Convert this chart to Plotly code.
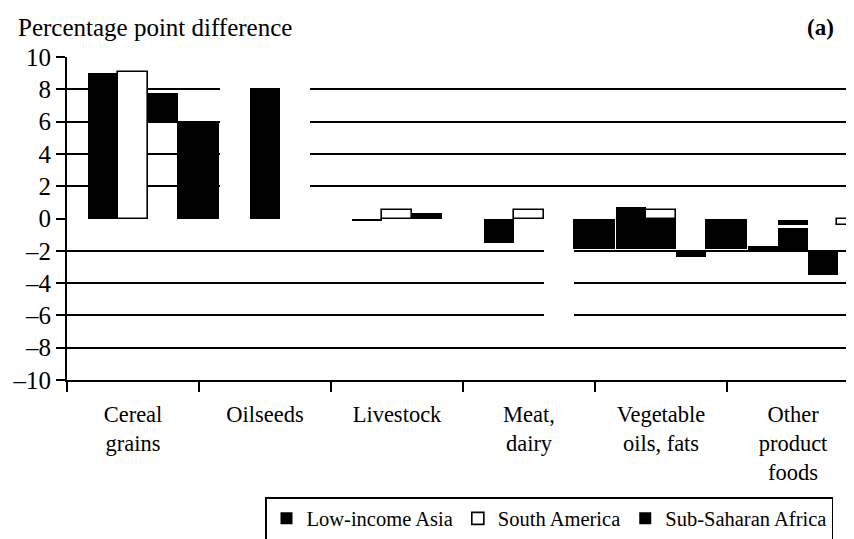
import plotly.graph_objects as go

# ---------------- data ----------------
categories = ["Cereal<br>grains", "Oilseeds", "Livestock", "Meat,<br>dairy",
              "Vegetable<br>oils, fats", "Other<br>product<br>foods"]
y_ticks = [-10, -8, -6, -4, -2, 0, 2, 4, 6, 8, 10]
y_tick_text = ["\u201310", "\u20138", "\u20136", "\u20134", "\u20132", "0", "2", "4", "6", "8", "10"]
N = None

# Low-income Asia (black, first bar of each group): base -> top
asia_base = [0, N, 0, 0, 0, -1.7]
asia_top = [9.0, N, -0.15, -1.5, 0.7, -2.0]
asia_extra_base = [N, N, N, N, 0, N]
asia_extra_top = [N, N, N, N, -1.9, N]

# South America (white, second bar)
sam_top = [9.1, N, 0.5, 0.5, 0.55, N]
mid_black_base = [N, 0, N, N, 0, -0.6]
mid_black_top = [N, 8.1, N, N, -1.9, -2.0]
mid_thin_base = [N, N, N, N, N, -0.1]
mid_thin_top = [N, N, N, N, N, -0.4]

# Sub-Saharan Africa (black, third bar)
ssa_base = [6.0, N, 0, N, -2.0, -2.0]
ssa_top = [7.8, N, 0.35, N, -2.4, -3.5]

# blank (white, unoutlined) bars
blank1_top = [N, 8.5, N, N, N, N]
blank3_top = [N, 8.5, N, -6.5, N, N]

# fourth (spare) bar in each group
spare_black_top = [5.9, N, N, -1.9, -1.9, N]
spare_white_top = [N, N, N, N, N, -0.4]

# ---------------- layout constants ----------------
BW = 0.227      # bar width in category units
SW = 0.318      # spare bar width
OFF = [-0.227, 0.0, 0.227, 0.492]
FONT = "Liberation Serif"
PAGE = 8        # default body margin of the html page
idx = list(range(len(categories)))


def span(base, top):
    xs, bs, ys = [], [], []
    for i, (b, t) in enumerate(zip(base, top)):
        if b is None or t is None:
            continue
        xs.append(i)
        bs.append(b)
        ys.append(t - b)
    return xs, bs, ys


def add(base, top, slot, width, fill, outline, name=None, legend=False):
    xs, bs, ys = span(base, top)
    fig.add_trace(go.Bar(
        x=[x + OFF[slot] for x in xs], y=ys, base=bs, width=width,
        marker=dict(color=fill, line=dict(color=outline, width=1.6 if outline != fill else 0)),
        name=name, showlegend=legend, hoverinfo="skip", xaxis="x", yaxis="y"))


fig = go.Figure()
zeros = [0] * len(categories)

# white blanks first
add(zeros, blank1_top, 0, BW, "white", "white")
add(zeros, blank3_top, 2, BW, "white", "white")

# legend-bearing series
add(asia_base, asia_top, 0, BW, "black", "black", "Low-income Asia", True)
add(zeros, sam_top, 1, BW, "white", "black", "South America", True)
add(ssa_base, ssa_top, 2, BW, "black", "black", "Sub-Saharan Africa", True)

# remaining pieces
add(asia_extra_base, asia_extra_top, 0, BW, "black", "black")
add(mid_black_base, mid_black_top, 1, BW, "black", "black")
add(mid_thin_base, mid_thin_top, 1, BW, "black", "black")
add(zeros, spare_black_top, 3, SW, "black", "black")
add(zeros, spare_white_top, 3, SW, "white", "black")

# invisible trace carrying the category labels on a second x axis
fig.add_trace(go.Scatter(x=idx, y=[None] * len(idx), xaxis="x2", yaxis="y",
                         showlegend=False, hoverinfo="skip"))

x_range = [-0.5, -0.5 + 785 / 132]

fig.update_layout(
    width=854, height=539,
    margin=dict(l=67 - PAGE, r=854 - (852 - PAGE), t=57 - PAGE, b=539 - (380 - PAGE),
                autoexpand=False),
    paper_bgcolor="white", plot_bgcolor="white",
    barmode="overlay", bargap=0,
    font=dict(family=FONT, size=23, color="black"),
    title=dict(text="Percentage point difference", x=(18 - PAGE) / 854, xanchor="left",
               y=1 - (27 - PAGE) / 539, yanchor="middle", xref="container", yref="container",
               font=dict(family=FONT, size=25, color="black")),
    xaxis=dict(range=x_range, tickvals=[-0.5, 0.5, 1.5, 2.5, 3.5, 4.5], showticklabels=False,
               ticks="outside", ticklen=10, tickwidth=1.6, tickcolor="black",
               showline=True, linecolor="black", linewidth=1.8, showgrid=False,
               zeroline=False, fixedrange=True),
    xaxis2=dict(range=x_range, overlaying="x", side="bottom", tickvals=idx, ticktext=categories,
                ticks="", showline=False, showgrid=False, zeroline=False,
                ticklabelstandoff=18, tickfont=dict(family=FONT, size=22.5, color="black")),
    yaxis=dict(range=[-10, 10], tickvals=y_ticks, ticktext=y_tick_text,
               ticks="outside", ticklen=9, tickwidth=1.6, tickcolor="black",
               showline=True, linecolor="black", linewidth=1.8,
               showgrid=True, gridcolor="black", gridwidth=1.7,
               zeroline=True, zerolinecolor="rgba(0,0,0,0)", zerolinewidth=1,
               tickfont=dict(family=FONT, size=25, color="black")),
    legend=dict(orientation="h", x=(265 - 67) / 785, xanchor="left",
                y=(380 - 497) / 323, yanchor="top",
                bordercolor="black", borderwidth=1.5, bgcolor="white",
                font=dict(family=FONT, size=20.5, color="black"),
                itemwidth=30, traceorder="normal"),
    annotations=[dict(text="<b>(a)</b>", xref="paper", yref="paper",
                      x=(836 - 67) / 785, xanchor="right", y=(380 - 27) / 323, yanchor="middle",
                      showarrow=False, font=dict(family=FONT, size=23, color="black"))],
)

fig.write_html("out.html")
